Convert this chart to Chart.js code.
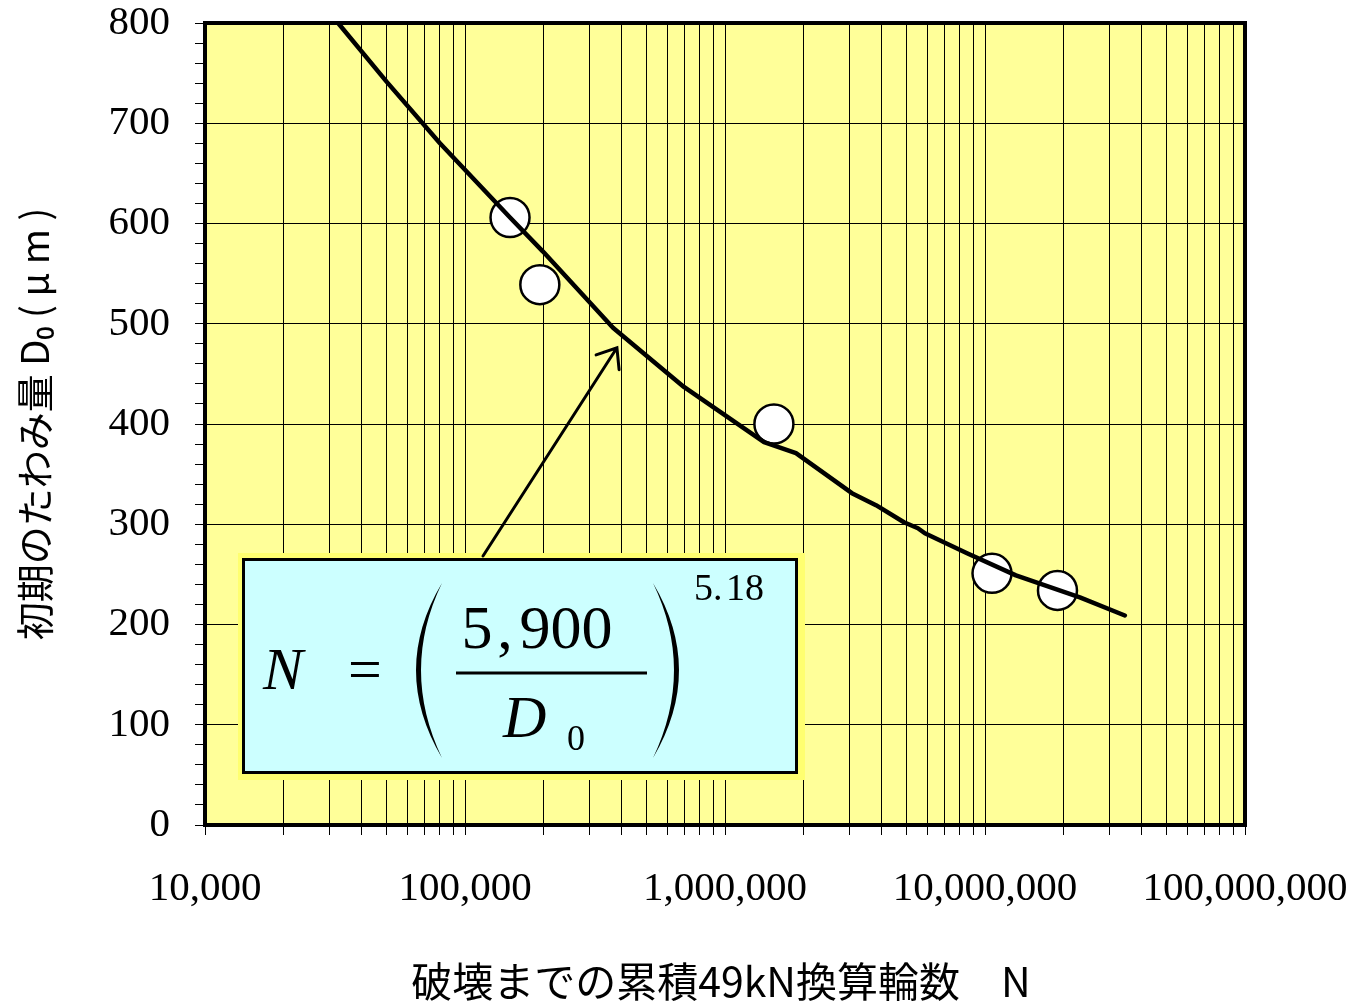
<!DOCTYPE html>
<html>
<head>
<meta charset="utf-8">
<script src="https://cdn.jsdelivr.net/npm/chart.js@4"></script>
<style>
	html, body { margin: 0; padding: 0; background: #fff; }
</style>
</head>
<body>
<canvas id="myChart" width="1357" height="1006"></canvas>
<script>
// fitted curve N = (5900 / D0)^5.18
const curveN = [32500, 50100, 80100, 149000, 199500, 302700, 370900, 695000, 1413000, 1875000, 3077000, 3808000, 4878000, 5521000, 5871000, 8531000, 13150000, 23170000, 34500000];
const curveD = [800, 741, 680, 606, 572, 521, 496, 437, 382, 371, 331, 319, 302, 296, 291, 271, 249, 227, 209];

// measured sections (white circles)
const measuredN = [149000, 194000, 1542000, 10640000, 19000000];
const measuredD = [606, 539, 400, 251, 234];

// axes
const xDecades = [10000, 100000, 1000000, 10000000, 100000000];
const xTickLabels = ["10,000", "100,000", "1,000,000", "10,000,000", "100,000,000"];
const yMin = 0;
const yMax = 800;
const yLabelStep = 100;
const yMinorStep = 20;

// arrow points at this spot on the curve
const arrowTarget = { x: 384000, y: 476 };

const xTitle = "破壊までの累積49kN換算輪数　N\u2009";
const yTitle = "初期のたわみ量 D₀ ( μ m )";

// minor log ticks 1..9 in every decade, plus the last decade
const xTickValues = [];
xDecades.slice(0, -1).forEach((d) => {
	for (let m = 1; m <= 9; m++) xTickValues.push(m * d);
});
xTickValues.push(xDecades[xDecades.length - 1]);

const toPoints = (xs, ys) => xs.map((x, i) => ({ x: x, y: ys[i] }));

const serif = "'Liberation Serif', 'Times New Roman', serif";
const gothic = "'Noto Sans CJK JP', 'Noto Sans', sans-serif";

const plotDecor = {
	id: "plotDecor",
	beforeDraw(chart) {
		const { ctx, chartArea: a } = chart;
		ctx.save();
		ctx.fillStyle = "#ffffff";
		ctx.fillRect(0, 0, chart.width, chart.height);
		ctx.fillStyle = "#ffff99";
		ctx.fillRect(a.left, a.top, a.right - a.left, a.bottom - a.top);
		ctx.restore();
	},
	beforeDatasetsDraw(chart) {
		const { ctx, chartArea: a } = chart;
		ctx.save();
		ctx.strokeStyle = "#000";
		ctx.lineWidth = 4;
		ctx.strokeRect(a.left, a.top, a.right - a.left, a.bottom - a.top);
		ctx.restore();
	},
	afterDraw(chart) {
		const ctx = chart.ctx;
		const xs = chart.scales.x;
		const ys = chart.scales.y;
		ctx.save();

		// formula box
		ctx.fillStyle = "#ffff70";
		ctx.fillRect(238, 553, 567, 227);
		ctx.fillStyle = "#ccffff";
		ctx.fillRect(243, 559, 554, 214);
		ctx.strokeStyle = "#000";
		ctx.lineWidth = 3;
		ctx.strokeRect(243.5, 559.5, 553, 213);

		ctx.fillStyle = "#000";
		ctx.textBaseline = "alphabetic";
		ctx.textAlign = "center";
		ctx.font = "italic 60px " + serif;
		ctx.fillText("N", 283, 689);
		ctx.font = "60px " + serif;
		ctx.fillText("=", 365, 689);
		ctx.font = "62px " + serif;
		ctx.fillText("5", 477, 648);
		ctx.fillText(",", 505, 648);
		ctx.fillText("900", 566, 648);
		ctx.textAlign = "left";
		ctx.font = "italic 60px " + serif;
		ctx.fillText("D", 503, 737);
		ctx.font = "36px " + serif;
		ctx.fillText("0", 567, 750);
		ctx.font = "38px " + serif;
		ctx.fillText("5.", 694, 600);
		ctx.fillText("18", 726, 600);

		// fraction bar
		ctx.lineWidth = 3;
		ctx.beginPath();
		ctx.moveTo(456, 673);
		ctx.lineTo(647, 673);
		ctx.stroke();

		// big parentheses as crescents
		ctx.beginPath();
		ctx.moveTo(442, 583);
		ctx.quadraticCurveTo(390, 670, 442, 758);
		ctx.quadraticCurveTo(400, 670, 442, 583);
		ctx.fill();
		ctx.beginPath();
		ctx.moveTo(653, 583);
		ctx.quadraticCurveTo(705, 670, 653, 758);
		ctx.quadraticCurveTo(695, 670, 653, 583);
		ctx.fill();

		// arrow from box to the curve
		const tx = xs.getPixelForValue(arrowTarget.x);
		const ty = ys.getPixelForValue(arrowTarget.y);
		const sx = 483;
		const sy = 556;
		const ang = Math.atan2(sy - ty, sx - tx);
		ctx.lineWidth = 3;
		ctx.lineCap = "round";
		ctx.beginPath();
		ctx.moveTo(sx, sy);
		ctx.lineTo(tx, ty);
		ctx.moveTo(tx + 22 * Math.cos(ang + 0.67), ty + 22 * Math.sin(ang + 0.67));
		ctx.lineTo(tx, ty);
		ctx.lineTo(tx + 22 * Math.cos(ang - 0.67), ty + 22 * Math.sin(ang - 0.67));
		ctx.stroke();

		ctx.restore();
	},
};

const chart = new Chart(document.getElementById("myChart"), {
	type: "scatter",
	data: {
		datasets: [
			{
				// curve first so it is drawn on top of the circles
				data: toPoints(curveN, curveD),
				showLine: true,
				borderColor: "#000",
				borderWidth: 4.5,
				pointRadius: 0,
				tension: 0,
				borderJoinStyle: "round",
				borderCapStyle: "round",
			},
			{
				data: toPoints(measuredN, measuredD),
				pointRadius: 19.5,
				pointBackgroundColor: "#fff",
				pointBorderColor: "#000",
				pointBorderWidth: 2.5,
			},
		],
	},
	options: {
		responsive: false,
		animation: false,
		events: [],
		layout: { padding: { top: 23, right: 112, left: 0, bottom: 0 } },
		plugins: {
			legend: { display: false },
			tooltip: { enabled: false },
		},
		scales: {
			x: {
				type: "logarithmic",
				min: xDecades[0],
				max: xDecades[xDecades.length - 1],
				afterBuildTicks: (scale) => {
					scale.ticks = xTickValues.map((v) => ({ value: v }));
				},
				afterFit: (scale) => {
					scale.height = 181;
					scale.paddingLeft = 0;
					scale.paddingRight = 0;
				},
				border: { display: false },
				grid: {
					color: "#000",
					lineWidth: 1,
					tickColor: "#000",
					tickLength: 10,
				},
				ticks: {
					autoSkip: false,
					maxRotation: 0,
					padding: 30,
					color: "#000",
					font: { family: serif, size: 41 },
					callback: (value) => {
						const i = xDecades.indexOf(value);
						return i >= 0 ? xTickLabels[i] : "";
					},
				},
				title: {
					display: true,
					text: xTitle,
					color: "#000",
					font: { family: gothic, size: 41 },
					padding: { top: 0, bottom: 0 },
				},
			},
			y: {
				min: yMin,
				max: yMax,
				afterFit: (scale) => {
					scale.width = 205;
					scale.paddingTop = 0;
					scale.paddingBottom = 0;
				},
				border: { display: false },
				grid: {
					color: (c) => (c.tick && c.tick.value % yLabelStep === 0 ? "#000" : "rgba(0,0,0,0)"),
					lineWidth: 1,
					tickColor: "#000",
					tickLength: 10,
				},
				ticks: {
					stepSize: yMinorStep,
					autoSkip: false,
					padding: 25,
					color: "#000",
					font: { family: serif, size: 41 },
					callback: (value) => (value % yLabelStep === 0 ? String(value) : ""),
				},
				title: {
					display: true,
					text: yTitle,
					color: "#000",
					font: { family: gothic, size: 38 },
					padding: { top: 12, bottom: 0 },
				},
			},
		},
	},
	plugins: [plotDecor],
});
</script>
</body>
</html>
